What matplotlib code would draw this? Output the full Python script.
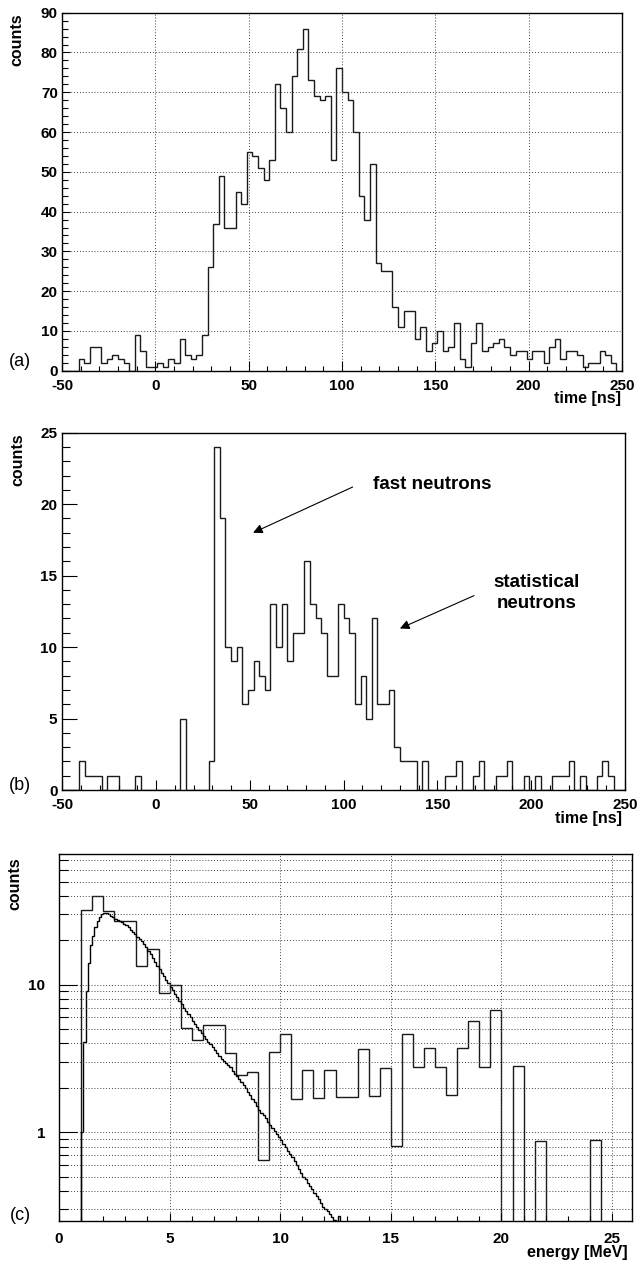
"""
Neutron time-of-flight spectra (a, b) and energy spectrum (c),
ROOT-style histograms redrawn with matplotlib.
"""

import numpy as np
import matplotlib
matplotlib.use("Agg")
import matplotlib.pyplot as plt
from matplotlib.ticker import MultipleLocator, FixedLocator, NullFormatter

plt.rcParams['font.family'] = ['Liberation Sans', 'DejaVu Sans']
plt.rcParams['font.weight'] = 'bold'
plt.rcParams['axes.unicode_minus'] = False

# ── (a) time spectrum, all events: 3 ns bins from -50 to 250 ns ──
TIME_EDGES = np.arange(-50, 251, 3)
counts_a = [0, 0, 0, 3, 2, 6, 6, 2, 3, 4,
            3, 2, 0, 9, 5, 1, 1, 2, 1, 3,
            2, 8, 4, 3, 4, 9, 26, 37, 49, 36,
            36, 45, 42, 55, 54, 51, 48, 53, 72, 66,
            60, 74, 81, 86, 73, 69, 68, 69, 53, 76,
            70, 68, 60, 44, 38, 52, 27, 25, 25, 16,
            11, 15, 15, 8, 11, 5, 7, 10, 5, 6,
            12, 3, 1, 7, 12, 5, 6, 7, 8, 6,
            4, 5, 5, 3, 5, 5, 2, 6, 8, 3,
            5, 5, 4, 1, 2, 2, 5, 4, 2, 0]

# ── (b) time spectrum, selected events ──
counts_b = [0, 0, 0, 2, 1, 1, 1, 0, 1, 1,
            0, 0, 0, 1, 0, 0, 0, 0, 0, 0,
            0, 5, 0, 0, 0, 0, 2, 24, 19, 10,
            9, 10, 6, 7, 9, 8, 7, 13, 10, 13,
            9, 11, 11, 16, 13, 12, 11, 8, 8, 13,
            12, 11, 6, 8, 5, 12, 6, 6, 7, 3,
            2, 2, 2, 0, 2, 0, 0, 0, 1, 1,
            2, 0, 0, 1, 2, 0, 0, 1, 1, 2,
            0, 0, 1, 0, 1, 0, 0, 1, 1, 1,
            2, 0, 1, 0, 0, 1, 2, 1, 0, 0]

# ── (c) energy spectrum: 0.5 MeV bins from 1 MeV ──
E_START, E_WIDTH = 1.0, 0.5
energy_counts = [32, 40, 31.5, 27, 27, 13.4, 17.5, 8.8, 10, 5.1,
                 4.25, 5.3, 5.3, 3.45, 2.45, 2.55, 0.65, 3.5, 4.6, 1.68,
                 2.66, 1.71, 2.66, 1.74, 1.74, 3.66, 1.75, 2.72, 0.81, 4.67,
                 2.75, 3.7, 2.75, 1.8, 3.7, 5.64, 2.76, 6.7, 0, 2.79,
                 0, 0.865, 0, 0, 0, 0, 0.88]

# calculated spectrum, 0.1 MeV bins from 1 MeV
SIM_START, SIM_WIDTH = 1.0, 0.1
sim_counts = [1.0, 4.1, 9.0, 14.0, 18.5, 21.5, 24.5, 27.0, 28.8, 30.0,
              30.6, 30.5, 30.0, 29.3, 28.6, 28.0, 27.4, 27.0, 26.5, 25.9,
              25.3, 24.5, 23.6, 22.8, 22.0, 21.2, 20.5, 19.7, 18.8, 18.0,
              17.0, 16.1, 15.2, 14.3, 13.5, 12.8, 12.1, 11.4, 10.8, 10.2,
              9.7, 9.2, 8.7, 8.2, 7.8, 7.4, 7.0, 6.6, 6.3, 6.0,
              5.7, 5.4, 5.15, 4.9, 4.7, 4.5, 4.3, 4.1, 3.95, 3.8,
              3.6, 3.45, 3.3, 3.15, 3.05, 2.95, 2.85, 2.75, 2.6, 2.5,
              2.4, 2.3, 2.2, 2.1, 1.98, 1.88, 1.78, 1.69, 1.6, 1.5,
              1.42, 1.36, 1.3, 1.24, 1.18, 1.12, 1.07, 1.02, 0.97, 0.93,
              0.88, 0.83, 0.79, 0.75, 0.71, 0.68, 0.64, 0.6, 0.56, 0.53,
              0.5, 0.48, 0.45, 0.43, 0.41, 0.39, 0.37, 0.35, 0.33, 0.31,
              0.3, 0.29, 0.28, 0.265, 0.255, 0.24, 0.27]

LINE = '#1a1a1a'
GRID = dict(linestyle=(0, (1, 2)), color='#444444', linewidth=0.7)

W, H = 637, 1261
fig = plt.figure(figsize=(W / 100, H / 100), dpi=100)


def px_axes(left, top, right, bottom):
    """Axes placed by pixel box of the reference picture."""
    return fig.add_axes([left / W, 1 - bottom / H,
                         (right - left) / W, (bottom - top) / H])


def fig_text(x, y, s, **kw):
    fig.text(x / W, 1 - y / H, s, **kw)


ax_a = px_axes(62, 12.7, 622, 370.7)
ax_b = px_axes(62.3, 432.7, 625, 790)
ax_c = px_axes(59, 854, 632, 1221)

for ax in (ax_a, ax_b, ax_c):
    for sp in ax.spines.values():
        sp.set_linewidth(1.0)
    ax.tick_params(which='both', direction='in', labelsize=11,
                   top=False, right=False, width=0.8)

# ══════════ (a) ══════════
ax_a.stairs(counts_a, TIME_EDGES, color=LINE, linewidth=1.0)
ax_a.set_xlim(-50, 250)
ax_a.set_ylim(0, 90)
ax_a.xaxis.set_major_locator(MultipleLocator(50))
ax_a.xaxis.set_minor_locator(MultipleLocator(10))
ax_a.yaxis.set_major_locator(MultipleLocator(10))
ax_a.yaxis.set_minor_locator(MultipleLocator(2))
ax_a.grid(True, which='major', **GRID)
ax_a.tick_params(axis='x', which='major', length=7, pad=6)
ax_a.tick_params(axis='x', which='minor', length=3.6)
ax_a.tick_params(axis='y', which='major', length=6, pad=3)
ax_a.tick_params(axis='y', which='minor', length=4.5)

# ══════════ (b) ══════════
ax_b.stairs(counts_b, TIME_EDGES, color=LINE, linewidth=1.0)
ax_b.set_xlim(-50, 250)
ax_b.set_ylim(0, 25)
ax_b.xaxis.set_major_locator(MultipleLocator(50))
ax_b.xaxis.set_minor_locator(MultipleLocator(10))
ax_b.yaxis.set_major_locator(MultipleLocator(5))
ax_b.yaxis.set_minor_locator(MultipleLocator(1))
ax_b.tick_params(axis='x', which='major', length=7, pad=6)
ax_b.tick_params(axis='x', which='minor', length=3.6)
ax_b.tick_params(axis='y', which='major', length=11, pad=3.5)
ax_b.tick_params(axis='y', which='minor', length=5.8)

arrow = dict(arrowstyle='-|>', color='black', lw=0.8,
             mutation_scale=14, shrinkA=0, shrinkB=0)
ax_b.annotate('', xy=(51.7, 18.0), xytext=(104.8, 21.2), arrowprops=arrow)
ax_b.text(115.6, 21.4, 'fast neutrons', fontsize=13.5, fontweight='bold',
          ha='left', va='center')
ax_b.annotate('', xy=(130, 11.3), xytext=(169.5, 13.6), arrowprops=arrow)
ax_b.text(203, 13.8, 'statistical\nneutrons', fontsize=13.5,
          fontweight='bold', ha='center', va='center', linespacing=1.3)

# ══════════ (c) ══════════
floor = 1e-2  # empty bins drawn below the visible range of the log axis
e_edges = E_START + E_WIDTH * np.arange(len(energy_counts) + 1)
e_vals = np.where(np.array(energy_counts) > 0, energy_counts, floor)
ax_c.stairs(e_vals, e_edges, baseline=floor, color=LINE, linewidth=1.0)

s_edges = SIM_START + SIM_WIDTH * np.arange(len(sim_counts) + 1)
ax_c.stairs(sim_counts, s_edges, baseline=floor, color='black',
            linewidth=1.0)

ax_c.set_yscale('log')
ax_c.set_xlim(0, 25.9)
ax_c.set_ylim(0.25, 77)
ax_c.xaxis.set_major_locator(MultipleLocator(5))
ax_c.xaxis.set_minor_locator(MultipleLocator(1))
ax_c.yaxis.set_major_locator(FixedLocator([1, 10]))
ax_c.set_yticklabels(['1', '10'])
minor_y = [0.3, 0.4, 0.5, 0.6, 0.7, 0.8, 0.9,
           2, 3, 4, 5, 6, 7, 8, 9, 20, 30, 40, 50, 60, 70]
ax_c.yaxis.set_minor_locator(FixedLocator(minor_y))
ax_c.yaxis.set_minor_formatter(NullFormatter())
ax_c.grid(True, axis='y', which='both', **GRID)
ax_c.grid(True, axis='x', which='major', **GRID)
ax_c.tick_params(axis='x', which='major', length=6, pad=8)
ax_c.tick_params(axis='x', which='minor', length=3.6)
ax_c.tick_params(axis='y', which='major', length=13, pad=10)
ax_c.tick_params(axis='y', which='minor', length=6.5)

# ── labels ──
lab = dict(fontsize=11.5, fontweight='bold')
fig_text(621, 399, 'time [ns]', ha='right', va='center', **lab)
fig_text(622, 818, 'time [ns]', ha='right', va='center', **lab)
fig_text(628, 1252, 'energy [MeV]', ha='right', va='center', **lab)
fig_text(17, 13, 'counts', rotation=90, ha='center', va='top', **lab)
fig_text(18, 433, 'counts', rotation=90, ha='center', va='top', **lab)
fig_text(15, 857, 'counts', rotation=90, ha='center', va='top', **lab)

panel = dict(fontsize=13, fontweight='normal', ha='center', va='center')
fig_text(20, 361, '(a)', **panel)
fig_text(20, 785, '(b)', **panel)
fig_text(20, 1216, '(c)', **panel)

fig.savefig('out.png', dpi=100)
